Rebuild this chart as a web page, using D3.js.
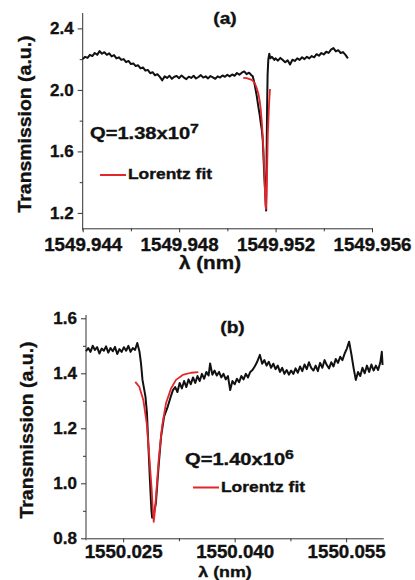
<!DOCTYPE html>
<html>
<head>
<meta charset="utf-8">
<script src="https://cdn.jsdelivr.net/npm/d3@7"></script>
<style>
  body { margin: 0; background: #fff; }
  svg { display: block; font-family: "Liberation Sans", Arial, sans-serif; font-weight: bold; }
  svg text { fill: #111; stroke: #111; stroke-width: 0.35px; }
  .axis { font-family: "Liberation Sans", Arial, sans-serif; }
  .axis path, .axis line { stroke: #333; stroke-width: 1; }
  .axis text { font-weight: bold; }
</style>
</head>
<body>
<svg width="415" height="580"></svg>
<script>
// panel (a) measured trace: [wavelength nm, transmission]
const topTrace = [
  [1549.9440,2.200],[1549.9441,2.215],[1549.9442,2.208],[1549.9443,2.228],[1549.9444,2.220],
  [1549.9445,2.240],[1549.9446,2.228],[1549.9447,2.252],[1549.9448,2.235],[1549.9449,2.245],
  [1549.9450,2.228],[1549.9451,2.238],[1549.9452,2.218],[1549.9453,2.226],[1549.9454,2.205],
  [1549.9455,2.212],[1549.9456,2.195],[1549.9457,2.200],[1549.9458,2.180],[1549.9459,2.188],
  [1549.9460,2.168],[1549.9461,2.172],[1549.9462,2.155],[1549.9463,2.160],[1549.9464,2.140],
  [1549.9465,2.146],[1549.9466,2.125],[1549.9467,2.130],[1549.9468,2.108],[1549.9469,2.115],
  [1549.9470,2.095],[1549.9471,2.102],[1549.9472,2.085],[1549.9473,2.062],[1549.9474,2.088],
  [1549.9475,2.078],[1549.9476,2.092],[1549.9477,2.072],[1549.9478,2.085],[1549.9479,2.090],
  [1549.9480,2.076],[1549.9481,2.094],[1549.9482,2.080],[1549.9483,2.070],[1549.9484,2.086],
  [1549.9485,2.078],[1549.9486,2.092],[1549.9487,2.074],[1549.9488,2.084],[1549.9489,2.096],
  [1549.9490,2.080],[1549.9491,2.088],[1549.9492,2.075],[1549.9493,2.090],[1549.9494,2.082],
  [1549.9495,2.072],[1549.9496,2.088],[1549.9497,2.080],[1549.9498,2.094],[1549.9499,2.085],
  [1549.9500,2.098],[1549.9501,2.088],[1549.9502,2.100],[1549.9503,2.092],[1549.9504,2.110],
  [1549.9505,2.098],[1549.9506,2.112],[1549.9507,2.120],[1549.9508,2.102],[1549.9509,2.112],
  [1549.9510,2.095],[1549.95105,2.090],[1549.95110,2.060],[1549.95115,2.020],[1549.95122,1.960],
  [1549.95129,1.886],[1549.95135,1.830],[1549.95139,1.780],[1549.95143,1.740],[1549.95147,1.670],
  [1549.95150,1.560],[1549.95153,1.450],[1549.95157,1.330],[1549.95161,1.215],[1549.95163,1.600],
  [1549.95165,1.900],[1549.95167,2.100],[1549.95170,2.200],[1549.95174,2.235],[1549.95178,2.205],
  [1549.95185,2.215],[1549.95195,2.195],[1549.9520,2.205],[1549.9521,2.190],[1549.9522,2.208],
  [1549.9523,2.195],[1549.9524,2.180],[1549.9525,2.192],[1549.9526,2.165],[1549.9527,2.196],
  [1549.9528,2.188],[1549.9529,2.205],[1549.9530,2.195],[1549.9531,2.212],[1549.9532,2.200],
  [1549.9533,2.215],[1549.9534,2.205],[1549.9535,2.220],[1549.9536,2.212],[1549.9537,2.232],
  [1549.9538,2.222],[1549.9539,2.240],[1549.9540,2.230],[1549.9541,2.248],[1549.9542,2.240],
  [1549.9543,2.262],[1549.9544,2.272],[1549.9545,2.250],[1549.9546,2.258],[1549.9547,2.240],
  [1549.9548,2.246],[1549.9549,2.228],[1549.9550,2.205]
];
// panel (a) Lorentz fit
const topFit = [
  [1549.95066,2.078],[1549.95080,2.076],[1549.95092,2.070],[1549.95101,2.065],[1549.95108,2.055],
  [1549.95115,2.040],[1549.95122,2.010],[1549.95129,1.974],[1549.95135,1.920],[1549.95139,1.865],
  [1549.95143,1.790],[1549.95147,1.690],[1549.95150,1.600],[1549.95153,1.495],[1549.95156,1.340],
  [1549.95158,1.256],[1549.95160,1.225],[1549.95162,1.300],[1549.95164,1.410],[1549.95167,1.640],
  [1549.95168,1.713],[1549.95171,1.830],[1549.95173,1.909],[1549.95175,1.960],[1549.95177,2.006]
];
// panel (b) measured trace
const botTrace = [
  [1550.0200,1.480],[1550.0203,1.492],[1550.0206,1.478],[1550.0209,1.500],[1550.0212,1.485],
  [1550.0215,1.495],[1550.0218,1.472],[1550.0221,1.490],[1550.0224,1.482],[1550.0227,1.498],
  [1550.0230,1.475],[1550.0233,1.492],[1550.0236,1.480],[1550.0239,1.496],[1550.0242,1.470],
  [1550.0245,1.488],[1550.0248,1.478],[1550.0251,1.495],[1550.0254,1.482],[1550.0257,1.500],
  [1550.0260,1.478],[1550.0263,1.492],[1550.0266,1.485],[1550.0269,1.510],[1550.0272,1.478],
  [1550.0274,1.436],[1550.0276,1.376],[1550.0280,1.315],[1550.0282,1.255],[1550.0284,1.133],
  [1550.0286,1.012],[1550.0288,0.903],[1550.0289,0.875],[1550.0290,0.880],[1550.0292,0.900],
  [1550.0294,0.927],[1550.0296,1.000],[1550.0298,1.073],[1550.0301,1.170],[1550.0305,1.242],
  [1550.0310,1.279],[1550.0314,1.315],[1550.0317,1.339],[1550.0320,1.350],[1550.0323,1.332],
  [1550.0326,1.365],[1550.0329,1.345],[1550.0332,1.372],[1550.0335,1.350],[1550.0338,1.378],
  [1550.0341,1.360],[1550.0344,1.385],[1550.0347,1.365],[1550.0350,1.390],[1550.0353,1.372],
  [1550.0356,1.398],[1550.0359,1.380],[1550.0362,1.405],[1550.0365,1.392],[1550.0367,1.436],
  [1550.0370,1.395],[1550.0373,1.410],[1550.0376,1.392],[1550.0379,1.405],[1550.0382,1.385],
  [1550.0385,1.398],[1550.0388,1.378],[1550.0391,1.390],[1550.0394,1.339],[1550.0397,1.372],
  [1550.0400,1.360],[1550.0403,1.380],[1550.0406,1.368],[1550.0409,1.390],[1550.0412,1.378],
  [1550.0415,1.398],[1550.0418,1.385],[1550.0421,1.405],[1550.0424,1.412],[1550.0427,1.425],
  [1550.0430,1.440],[1550.0434,1.467],[1550.0437,1.435],[1550.0440,1.448],[1550.0443,1.428],
  [1550.0446,1.442],[1550.0449,1.420],[1550.0452,1.435],[1550.0455,1.415],[1550.0458,1.428],
  [1550.0461,1.405],[1550.0464,1.420],[1550.0467,1.398],[1550.0470,1.412],[1550.0473,1.395],
  [1550.0476,1.410],[1550.0479,1.398],[1550.0482,1.418],[1550.0485,1.402],[1550.0488,1.425],
  [1550.0491,1.408],[1550.0494,1.432],[1550.0497,1.415],[1550.0500,1.440],[1550.0503,1.420],
  [1550.0506,1.410],[1550.0509,1.428],[1550.0512,1.408],[1550.0515,1.438],[1550.0518,1.420],
  [1550.0521,1.448],[1550.0524,1.430],[1550.0527,1.418],[1550.0530,1.440],[1550.0533,1.425],
  [1550.0536,1.452],[1550.0539,1.438],[1550.0542,1.460],[1550.0545,1.448],[1550.0548,1.472],
  [1550.0551,1.490],[1550.0554,1.515],[1550.0557,1.470],[1550.0560,1.420],[1550.0563,1.376],
  [1550.0566,1.405],[1550.0569,1.390],[1550.0572,1.420],[1550.0575,1.400],[1550.0578,1.428],
  [1550.0581,1.405],[1550.0584,1.432],[1550.0587,1.410],[1550.0590,1.428],[1550.0593,1.412],
  [1550.0596,1.440],[1550.0598,1.478],[1550.0599,1.430]
];
// panel (b) Lorentz fit
const botFit = [
  [1550.02663,1.369],[1550.02717,1.351],[1550.02771,1.303],[1550.02817,1.218],[1550.02852,1.097],
  [1550.02884,0.976],[1550.02900,0.900],[1550.02911,0.860],[1550.02925,0.895],[1550.02942,0.951],
  [1550.02978,1.085],[1550.03023,1.206],[1550.03076,1.291],[1550.03144,1.345],[1550.03211,1.376],
  [1550.03301,1.394],[1550.03413,1.402],[1550.03511,1.404]
];

const topXTicks = [1549.944, 1549.948, 1549.952, 1549.956];
const topXMinor = [1549.946, 1549.950, 1549.954];
const topYTicks = [1.2, 1.6, 2.0, 2.4];
const topYMinor = [1.4, 1.8, 2.2];
const botXTicks = [1550.025, 1550.040, 1550.055];
const botXMinor = [1550.0325, 1550.0475];
const botYTicks = [0.8, 1.0, 1.2, 1.4, 1.6];
const botYMinor = [0.9, 1.1, 1.3, 1.5];

const svg = d3.select("svg");
const RED = "#e3262b";

function panel(opt) {
  const g = svg.append("g");
  const x = d3.scaleLinear().domain(opt.xDomain).range(opt.xRange);
  const y = d3.scaleLinear().domain(opt.yDomain).range(opt.yRange);

  // minor ticks
  g.append("g").attr("class", "axis")
    .attr("transform", `translate(0,${opt.yRange[0]})`)
    .call(d3.axisBottom(x).tickValues(opt.xMinor).tickSize(3).tickFormat(""))
    .select(".domain").remove();
  g.append("g").attr("class", "axis")
    .attr("transform", `translate(${opt.xRange[0]},0)`)
    .call(d3.axisLeft(y).tickValues(opt.yMinor).tickSize(3).tickFormat(""))
    .select(".domain").remove();

  // major axes
  const xa = g.append("g").attr("class", "axis")
    .attr("transform", `translate(0,${opt.yRange[0]})`)
    .call(d3.axisBottom(x).tickValues(opt.xTicks).tickSize(4).tickSizeOuter(0)
      .tickPadding(opt.xPad).tickFormat(d3.format(opt.xFmt)));
  xa.selectAll("text").style("font-size", "17.5px").attr("transform", "scale(1.07,1)");

  const ya = g.append("g").attr("class", "axis")
    .attr("transform", `translate(${opt.xRange[0]},0)`)
    .call(d3.axisLeft(y).tickValues(opt.yTicks).tickSize(5).tickSizeOuter(0)
      .tickPadding(4).tickFormat(d3.format(".1f")));
  ya.selectAll("text").style("font-size", "17px");
  ya.select(".domain").attr("d", `M0,${opt.yRange[0] + 2}V${opt.yTop}`);

  const line = d3.line().x(d => x(d[0])).y(d => y(d[1]));
  g.append("path").datum(opt.trace).attr("d", line)
    .attr("fill", "none").attr("stroke", "#111").attr("stroke-width", 2)
    .attr("stroke-linejoin", "round");
  g.append("path").datum(opt.fit).attr("d", line)
    .attr("fill", "none").attr("stroke", RED).attr("stroke-width", 1.8)
    .attr("stroke-linejoin", "round");

  // panel letter
  g.append("text").attr("transform", `translate(${opt.tag[0]},${opt.tag[1]}) scale(1.2,1)`)
    .attr("text-anchor", "middle").style("font-size", "16px").text(opt.tag[2]);

  // Q label with superscript
  const q = g.append("text")
    .attr("transform", `translate(${opt.q[0]},${opt.q[1]}) scale(1.22,1)`)
    .style("font-size", "16.5px");
  q.append("tspan").text(opt.q[2]);
  q.append("tspan").attr("dy", "-0.45em").style("font-size", "13px").text(opt.q[3]);

  // legend
  g.append("line")
    .attr("x1", opt.leg[0]).attr("x2", opt.leg[0] + 26)
    .attr("y1", opt.leg[1]).attr("y2", opt.leg[1])
    .attr("stroke", RED).attr("stroke-width", 2);
  g.append("text")
    .attr("transform", `translate(${opt.leg[0] + 28},${opt.leg[1] + 4}) scale(1.2,1)`)
    .style("font-size", "14.5px").text("Lorentz fit");

  // axis titles
  g.append("text")
    .attr("transform", `translate(${opt.xl[0]},${opt.xl[1]}) scale(1.15,1)`)
    .attr("text-anchor", "middle").style("font-size", opt.xlSize).text("λ (nm)");
  g.append("text")
    .attr("transform", `translate(${opt.yl[0]},${opt.yl[1]}) rotate(-90) scale(1.08,1)`)
    .attr("text-anchor", "middle").style("font-size", "18px").text("Transmission (a.u.)");
}

panel({
  xDomain: [1549.944, 1549.956], xRange: [82.7, 372],
  yDomain: [1.1, 2.5], yRange: [228.3, 13], yTop: 13,
  xTicks: topXTicks, xMinor: topXMinor, yTicks: topYTicks, yMinor: topYMinor, xFmt: ".3f", xPad: 6,
  trace: topTrace, fit: topFit,
  tag: [225, 24, "(a)"],
  q: [90, 138.5, "Q=1.38x10", "7"],
  leg: [100, 175],
  xl: [210, 268.5], xlSize: "18px", yl: [31, 124]
});

panel({
  xDomain: [1550.020, 1550.060], xRange: [86, 383.3],
  yDomain: [0.8, 1.6], yRange: [538.3, 318.3], yTop: 315,
  xTicks: botXTicks, xMinor: botXMinor, yTicks: botYTicks, yMinor: botYMinor, xFmt: ".3f", xPad: 3.5,
  trace: botTrace, fit: botFit,
  tag: [232.5, 333, "(b)"],
  q: [185, 465, "Q=1.40x10", "6"],
  leg: [193, 487.5],
  xl: [225, 576.5], xlSize: "15.5px", yl: [33, 430]
});
</script>
</body>
</html>
